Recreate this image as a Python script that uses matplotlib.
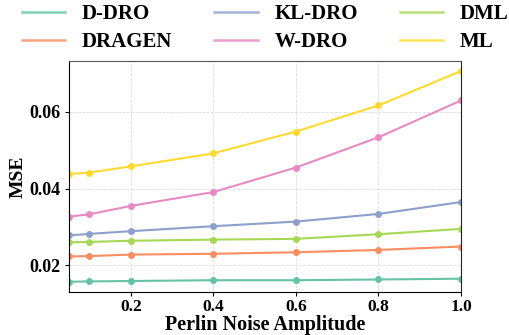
import matplotlib
matplotlib.use("Agg")
import matplotlib.pyplot as plt
from matplotlib.lines import Line2D

plt.rcParams['font.family'] = ['Liberation Serif', 'DejaVu Serif']
plt.rcParams['font.weight'] = 'bold'

x = [0.05, 0.1, 0.2, 0.4, 0.6, 0.8, 1.0]
d_dro = [0.0157, 0.0158, 0.0159, 0.0161, 0.0161, 0.0163, 0.0165]
dragen = [0.0223, 0.0224, 0.0228, 0.0230, 0.0234, 0.0240, 0.0249]
kl_dro = [0.0278, 0.0282, 0.0289, 0.0302, 0.0314, 0.0334, 0.0365]
w_dro = [0.0327, 0.0333, 0.0355, 0.0391, 0.0455, 0.0534, 0.0630]
dml = [0.0260, 0.0261, 0.0264, 0.0267, 0.0269, 0.0281, 0.0295]
ml = [0.0438, 0.0442, 0.0458, 0.0492, 0.0549, 0.0617, 0.0707]

series = [
    ("D-DRO", d_dro, "#66c2a5"),
    ("DRAGEN", dragen, "#fc8d62"),
    ("KL-DRO", kl_dro, "#8da0cb"),
    ("W-DRO", w_dro, "#e78ac3"),
    ("DML", dml, "#a6d854"),
    ("ML", ml, "#ffd92f"),
]

fig = plt.figure(figsize=(5.1, 3.35), dpi=100)
ax = fig.add_axes([0.135, 0.128, 0.769, 0.691])
handles = []
for name, vals, col in series:
    ax.plot(x, vals, color=col, lw=1.5, marker='o', ms=4)
    handles.append(Line2D([], [], color=col, lw=1.8, alpha=0.8, label=name))

ax.set_xlim(0.05, 1.0)
ax.set_ylim(0.013, 0.0734)
ax.set_xticks([0.2, 0.4, 0.6, 0.8, 1.0])
ax.set_yticks([0.02, 0.04, 0.06])
ax.grid(True, linestyle='--', color='#dddddd', lw=0.6)
ax.tick_params(labelsize=13, length=3, pad=3)
ax.tick_params(axis='x', pad=2, labelsize=12.5)
for lab in ax.get_xticklabels() + ax.get_yticklabels():
    lab.set_fontweight('bold')
ax.set_xlabel("Perlin Noise Amplitude", fontsize=14.5, fontweight='bold', labelpad=0)
ax.set_ylabel("MSE", fontsize=14, fontweight='bold', labelpad=2)
ax.spines['top'].set_color('#555555')
ax.spines['right'].set_color('#222222')

fig.legend(handles=handles, loc='upper center', bbox_to_anchor=(0.52, 1.044), ncol=3,
           frameon=False, prop={'size': 15, 'weight': 'bold'},
           handlelength=2.1, columnspacing=2.0, handletextpad=0.8, labelspacing=0.4)

fig.savefig("out.png", dpi=100)
